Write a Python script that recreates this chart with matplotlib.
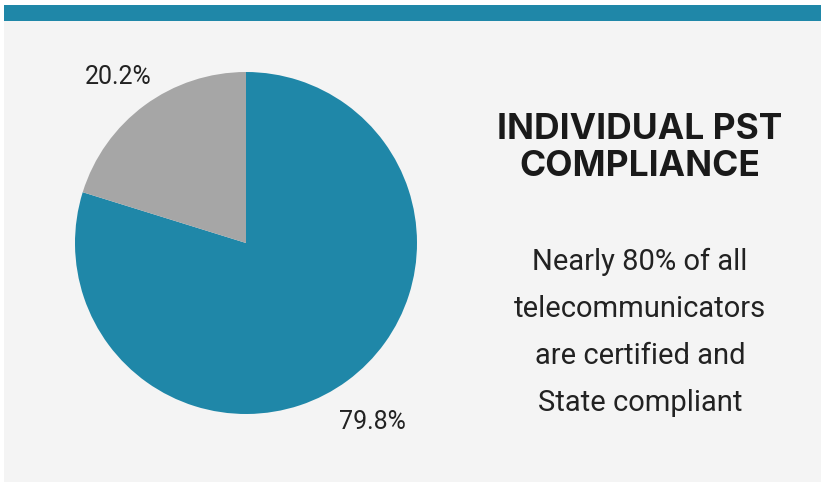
import matplotlib.pyplot as plt
from matplotlib.patches import Rectangle

labels = ["Certified & compliant", "Not compliant"]
shares = [79.8, 20.2]
colors = ["#1f87a8", "#a6a6a6"]
title_lines = ["INDIVIDUAL PST", "COMPLIANCE"]
body_lines = ["Nearly 80% of all", "telecommunicators", "are certified and", "State compliant"]

W, H = 821, 482
fig = plt.figure(figsize=(W / 100, H / 100), dpi=100)
fig.patch.set_facecolor("white")

# panel background and top accent bar (in pixel-fraction coords)
fig.patches.append(Rectangle((4 / W, 0), 1 - 4 / W, 1 - 21 / H, transform=fig.transFigure,
                             facecolor="#f4f4f4", edgecolor="none", zorder=-2))
fig.patches.append(Rectangle((4 / W, 1 - 21 / H), 1 - 4 / W, 16 / H, transform=fig.transFigure,
                             facecolor="#1f87a8", edgecolor="none", zorder=-2))

# pie axes: center (246, 243), radius 171 px
cx, cy, r = 246, 243, 171
ax = fig.add_axes([(cx - r) / W, 1 - (cy + r) / H, 2 * r / W, 2 * r / H])
ax.set_zorder(1)
ax.patch.set_alpha(0)
ax.pie(shares, colors=colors, startangle=90, counterclock=False,
       wedgeprops=dict(linewidth=0))
ax.set_xlim(-1, 1)
ax.set_ylim(-1, 1)
ax.set_aspect("equal")
ax.axis("off")

fig.text(118 / W, 1 - 77 / H, f"{shares[1]:.1f}%", ha="center", va="center",
         fontsize=18, family="Roboto", color="#222222")
fig.text(372 / W, 1 - 422 / H, f"{shares[0]:.1f}%", ha="center", va="center",
         fontsize=18, family="Roboto", color="#222222")

for i, line in enumerate(title_lines):
    fig.text(640 / W, 1 - (130 + 36 * i) / H, line, ha="center", va="center",
             fontsize=25.5, fontweight="bold", family="Inter", color="#1a1a1a")

for i, line in enumerate(body_lines):
    fig.text(640 / W, 1 - (262 + 47 * i) / H, line, ha="center", va="center",
             fontsize=21, family="Roboto", color="#222222")

fig.savefig("out.png", dpi=100, facecolor=fig.get_facecolor())
